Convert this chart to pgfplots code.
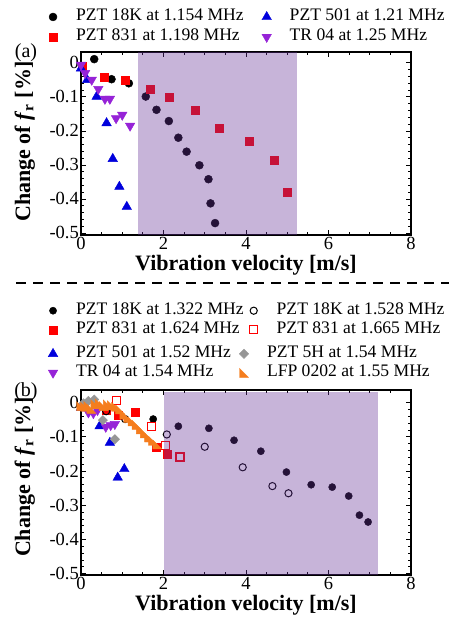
\documentclass[border=0pt]{standalone}
\usepackage{fontspec}
\setmainfont{Liberation Serif}
\usepackage{pgfplots}
\pgfplotsset{compat=1.18}
\definecolor{shade}{RGB}{102,51,153}
\definecolor{myblue}{RGB}{0,0,220}
\definecolor{mypurple}{RGB}{150,35,215}
\definecolor{myorange}{RGB}{245,125,30}
\definecolor{mygray}{RGB}{150,150,150}
\definecolor{myred}{RGB}{255,0,0}
\pgfdeclareplotmark{rtri}{%
  \pgfpathmoveto{\pgfqpoint{-\pgfplotmarksize}{\pgfplotmarksize}}%
  \pgfpathlineto{\pgfqpoint{-\pgfplotmarksize}{-\pgfplotmarksize}}%
  \pgfpathlineto{\pgfqpoint{\pgfplotmarksize}{-\pgfplotmarksize}}%
  \pgfpathclose\pgfusepathqfillstroke}
\pgfplotsset{
  myaxis/.style={
    scale only axis, width=330pt, clip=false,
    xmin=0, xmax=8,
    xtick={0,2,4,6,8}, ytick={-0.5,-0.4,-0.3,-0.2,-0.1,0},
    minor x tick num=3, minor y tick num=4,
    tick align=inside, major tick length=5pt, minor tick length=3pt,
    axis line style={line width=1.2pt},
    every tick/.style={line width=0.8pt, black},
    /pgf/number format/assume math mode=true,
    tick label style={font=\fontsize{18.5}{18.5}\selectfont},
    xticklabel style={inner sep=1pt, yshift=-1pt},
    yticklabel style={inner sep=2pt},
    xlabel={Vibration velocity [m/s]},
    ylabel={Change of \textit{f}\textsubscript{r} [\%]},
    label style={font=\fontsize{22}{22}\selectfont\bfseries},
    xlabel style={inner sep=0pt, yshift=-4pt},
    legend image code/.code={%
      \path[draw=none, fill=none] (-9pt,-2pt) rectangle (9pt,2pt);
      \draw[##1] plot coordinates {(0pt,0pt)};},
    legend style={draw=none, fill=none, inner sep=0pt, outer sep=0pt,
      font=\fontsize{17.6}{20}\selectfont,
      nodes={text height=12pt, text depth=4pt, inner ysep=2pt, inner xsep=0pt},
      /tikz/every odd column/.append style={column sep=14pt},
      /tikz/every even column/.append style={column sep=14pt}},
    legend cell align=left, transpose legend, legend columns=2,
  },
  shadeaxis/.style={scale only axis, width=330pt, hide axis, xmin=0, xmax=8}
}
\begin{document}
\begin{tikzpicture}[x=1pt,y=1pt]
\useasboundingbox (0,0) rectangle (449,618);
% ---------------- panel (a)
\begin{axis}[myaxis, at={(81pt,383pt)}, anchor=south west, height=183pt,
  ymin=-0.506, ymax=0.032,
  ylabel style={at={(axis description cs:-0.17,0.51)}, anchor=center},
  legend style={at={(-0.112,1.246)}, anchor=north west}]
\addplot[only marks, mark=*, mark size=4pt, black] coordinates {
(0.32,0.011) (0.74,-0.048) (1.16,-0.060) (1.57,-0.099) (1.83,-0.138) (2.13,-0.171)
(2.36,-0.220) (2.56,-0.261) (2.87,-0.301) (3.09,-0.342) (3.14,-0.413) (3.25,-0.471)};
\addlegendentry{PZT 18K at 1.154 MHz}
\addplot[only marks, mark=square*, mark size=4pt, myred] coordinates {
(0.04,-0.011) (0.56,-0.043) (1.08,-0.050) (1.67,-0.077) (2.14,-0.101) (2.76,-0.139)
(3.35,-0.191) (4.07,-0.230) (4.68,-0.286) (4.99,-0.379)};
\addlegendentry{PZT 831 at 1.198 MHz}
\addplot[only marks, mark=triangle*, mark size=5.5pt, myblue] coordinates {
(0.0,-0.016) (0.15,-0.050) (0.38,-0.099) (0.62,-0.177) (0.77,-0.282) (0.93,-0.364) (1.11,-0.423)};
\addlegendentry{PZT 501 at 1.21 MHz}
\addplot[only marks, mark=triangle*, mark size=5.5pt, mark options={rotate=180}, mypurple] coordinates {
(0.0,-0.006) (0.10,-0.030) (0.26,-0.050) (0.42,-0.077) (0.58,-0.106) (0.70,-0.106)
(0.85,-0.163) (1.00,-0.153) (1.19,-0.185)};
\addlegendentry{TR 04 at 1.25 MHz}
\end{axis}
\begin{axis}[shadeaxis, at={(81pt,383pt)}, anchor=south west, height=183pt,
  ymin=-0.506, ymax=0.032]
\addplot[draw=none, fill=shade, fill opacity=0.37] coordinates {
(1.38,-0.506) (5.23,-0.506) (5.23,0.031) (1.38,0.031)} -- cycle;
\end{axis}
\node[font=\fontsize{20}{20}\selectfont] at (26,565) {(a)};
\draw[line width=1.8pt, dash pattern=on 10pt off 7pt] (16,335) -- (449,335);
% ---------------- panel (b)
\begin{axis}[myaxis, at={(81pt,43pt)}, anchor=south west, height=185pt,
  ymin=-0.504, ymax=0.037,
  ylabel style={at={(axis description cs:-0.17,0.53)}, anchor=center},
  legend style={at={(-0.112,1.48)}, anchor=north west,
    nodes={text height=11pt},
    /tikz/every even column/.append style={column sep=1pt}}]
\addplot[only marks, mark=*, mark size=3.6pt, black] coordinates {
(1.75,-0.048) (2.36,-0.069) (3.10,-0.075) (3.71,-0.110) (4.36,-0.142) (4.98,-0.203)
(5.58,-0.240) (6.09,-0.247) (6.49,-0.273) (6.75,-0.329) (6.96,-0.349)};
\addlegendentry{PZT 18K at 1.322 MHz}
\addplot[only marks, mark=square*, mark size=4pt, myred] coordinates {
(0.60,-0.022) (0.89,-0.037) (1.31,-0.028) (1.82,-0.129) (2.10,-0.152)};
\addlegendentry{PZT 831 at 1.624 MHz}
\addplot[only marks, mark=o, mark size=3.6pt, black, mark options={draw=black, line width=1pt}] coordinates {
(0.61,-0.025) (1.07,-0.048) (2.08,-0.093) (3.00,-0.129) (3.92,-0.189) (4.64,-0.244) (5.03,-0.265)};
\addlegendentry{PZT 18K at 1.528 MHz}
\addplot[only marks, mark=square, mark size=4pt, myred, mark options={draw=myred, line width=1.1pt}] coordinates {
(0.86,0.006) (1.70,-0.071) (2.04,-0.125) (2.40,-0.159)};
\addlegendentry{PZT 831 at 1.665 MHz}
\end{axis}
\begin{axis}[myaxis, hide axis, at={(81pt,43pt)}, anchor=south west, height=185pt,
  ymin=-0.504, ymax=0.037,
  legend style={at={(-0.112,1.247)}, anchor=north west,
    nodes={text height=11pt},
    /tikz/every even column/.append style={column sep=4pt}}]
\addplot[only marks, mark=triangle*, mark size=5.5pt, myblue] coordinates {
(0.0,-0.015) (0.45,-0.069) (0.70,-0.117) (1.05,-0.194) (0.89,-0.219)};
\addlegendentry{PZT 501 at 1.52 MHz}
\addplot[only marks, mark=triangle*, mark size=5.5pt, mark options={rotate=180}, mypurple] coordinates {
(0.05,-0.010) (0.18,-0.029) (0.30,-0.031) (0.40,-0.022) (0.60,-0.071) (0.72,-0.066) (0.82,-0.063)};
\addlegendentry{TR 04 at 1.54 MHz}
\addplot[only marks, mark=square*, mark size=3.3pt, mark options={rotate=45}, mygray] coordinates {
(0.06,-0.002) (0.18,0.005) (0.32,0.009) (0.53,-0.051) (0.82,-0.107)};
\addlegendentry{PZT 5H at 1.54 MHz}
\addplot[only marks, mark=rtri, mark size=4.5pt, myorange] coordinates {
(0.00,-0.010) (0.10,-0.012) (0.18,-0.010) (0.25,-0.018) (0.35,-0.005) (0.45,-0.002)
(0.55,-0.010) (0.65,-0.005) (0.75,-0.008) (0.85,-0.012) (0.95,-0.020) (1.05,-0.035)
(1.15,-0.045) (1.25,-0.055) (1.35,-0.065) (1.45,-0.078) (1.55,-0.090) (1.65,-0.102)
(1.75,-0.112) (1.85,-0.122)};
\addlegendentry{LFP 0202 at 1.55 MHz}
\end{axis}
\begin{axis}[shadeaxis, at={(81pt,43pt)}, anchor=south west, height=185pt,
  ymin=-0.504, ymax=0.037]
\addplot[draw=none, fill=shade, fill opacity=0.37] coordinates {
(2.0,-0.504) (7.2,-0.504) (7.2,0.032) (2.0,0.032)} -- cycle;
\end{axis}
\node[font=\fontsize{20}{20}\selectfont] at (26,226) {(b)};
\end{tikzpicture}
\end{document}
